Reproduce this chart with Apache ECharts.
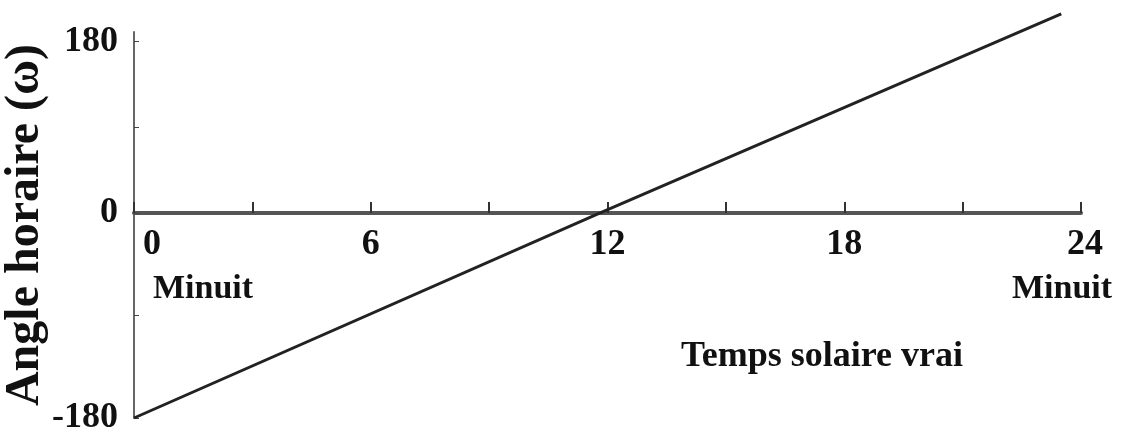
<!DOCTYPE html>
<html>
<head>
<meta charset="utf-8">
<script src="https://cdn.jsdelivr.net/npm/echarts@6/dist/echarts.min.js"></script>
<style>
  html, body { margin: 0; padding: 0; background: #fff; }
  #chart { width: 1122px; height: 432px; }
</style>
</head>
<body>
<div id="chart"></div>
<script>
// temps solaire vrai (h) -> angle horaire (deg)
const timeData = [0, 11.8, 23.5];
const angleData = [-180, 0, 175];
const xLabels = { 0: "0", 6: "6", 12: "12", 18: "18", 24: "24" };
const yLabelsLow = [-180, 0];
const yLabelsHigh = [180];

const font = "Liberation Serif";

const chart = echarts.init(document.getElementById("chart"));

const option = {
  backgroundColor: "#fff",
  animation: false,
  title: {
    text: "Temps solaire vrai",
    left: 676,
    top: 334,
    textStyle: { fontFamily: font, fontWeight: "bold", fontSize: 36, color: "#111" },
  },
  grid: { left: 134, right: 41, top: 32, bottom: 14, containLabel: false, outerBoundsMode: "none" },
  xAxis: {
    type: "value",
    min: 0,
    max: 24,
    interval: 3,
    position: "bottom",
    offset: -205, // axis sits on the zero line
    axisLine: { onZero: false, lineStyle: { color: "#555", width: 4 } },
    axisTick: { inside: true, length: 11, lineStyle: { color: "#333", width: 2 } },
    splitLine: { show: false },
    axisLabel: {
      margin: 10,
      fontFamily: font,
      fontWeight: "bold",
      fontSize: 36,
      color: "#111",
      lineHeight: 44,
      formatter: (v) => {
        if (v === 0) return "{z|0}\n{m|Minuit}";
        if (v === 24) return "{w|24}\n{n|Minuit}";
        return xLabels[v] || "";
      },
      rich: {
        z: { fontFamily: font, fontWeight: "bold", fontSize: 36, color: "#111", lineHeight: 44, padding: [0, 0, 0, 36] },
        w: { fontFamily: font, fontWeight: "bold", fontSize: 36, color: "#111", lineHeight: 44, padding: [0, 0, 0, 8] },
        m: { fontFamily: font, fontWeight: "bold", fontSize: 34, color: "#111", lineHeight: 44, padding: [0, 0, 0, 138] },
        n: { fontFamily: font, fontWeight: "bold", fontSize: 34, color: "#111", lineHeight: 44, padding: [0, 38, 0, 0] },
      },
    },
  },
  yAxis: [
    {
      type: "value",
      min: -180,
      max: 159,
      position: "left",
      name: "Angle horaire (ω)",
      nameLocation: "middle",
      nameRotate: 90,
      nameGap: 84,
      nameMoveOverlap: false,
      nameTextStyle: { fontFamily: font, fontWeight: "bold", fontSize: 48, color: "#111" },
      axisLine: { show: true, lineStyle: { color: "#666", width: 2 } },
      axisTick: { show: true, inside: true, length: 5, customValues: [-180, -90, 0], lineStyle: { color: "#444" } },
      splitLine: { show: false },
      axisLabel: {
        customValues: yLabelsLow,
        margin: 16,
        fontFamily: font,
        fontWeight: "bold",
        fontSize: 36,
        color: "#111",
      },
    },
    {
      // upper half of the axis is drawn at its own (tighter) spacing
      type: "value",
      min: -216,
      max: 190,
      position: "left",
      axisLine: { show: false },
      axisTick: { show: true, inside: true, length: 5, customValues: [90, 180], lineStyle: { color: "#444" } },
      splitLine: { show: false },
      axisLabel: {
        customValues: yLabelsHigh,
        margin: 16,
        fontFamily: font,
        fontWeight: "bold",
        fontSize: 36,
        color: "#111",
      },
    },
  ],
  series: [
    {
      type: "line",
      yAxisIndex: 0,
      data: timeData.map((t, i) => [t, angleData[i]]),
      showSymbol: false,
      clip: false,
      lineStyle: { color: "#222", width: 3 },
    },
  ],
};

chart.setOption(option);
</script>
</body>
</html>
